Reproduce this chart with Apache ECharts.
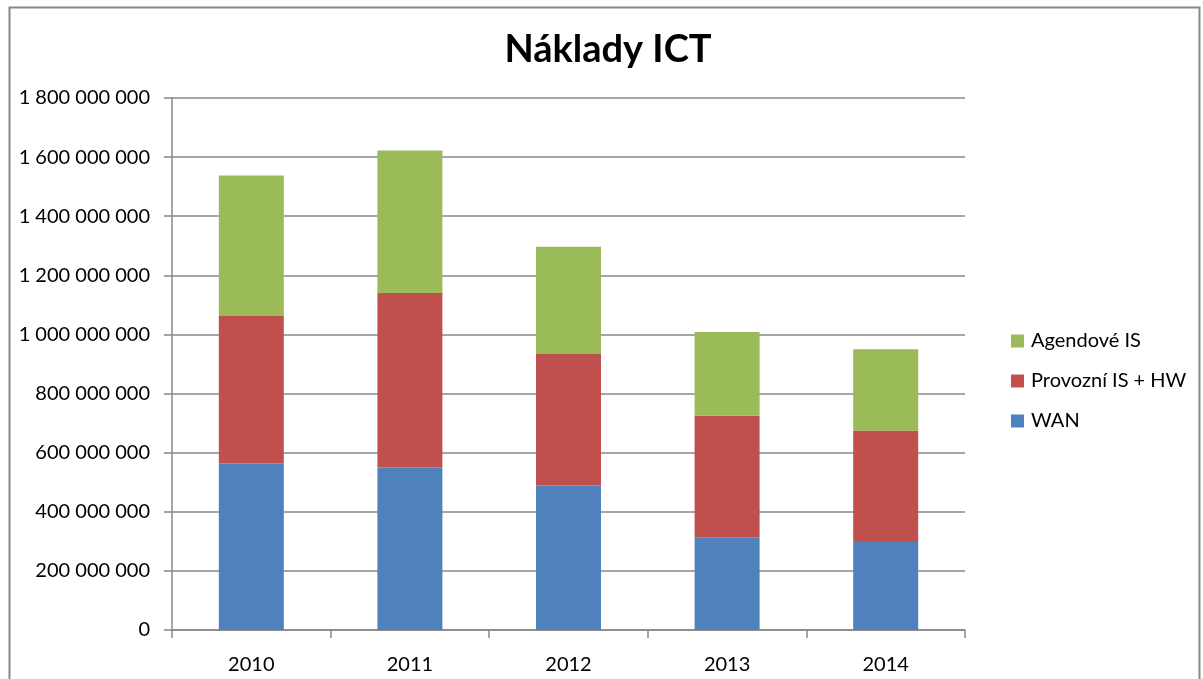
<!DOCTYPE html>
<html><head><meta charset="utf-8">
<script src="https://cdn.jsdelivr.net/npm/echarts@6/dist/echarts.min.js"></script>
<style>html,body{margin:0;padding:0;background:#fff}#c{width:1203px;height:679px}</style>
</head><body><div id="c"></div>
<script>
const categories = ['2010','2011','2012','2013','2014'];
const wan = [563000000, 550000000, 489000000, 314000000, 298000000];
const provozni = [499000000, 590000000, 445000000, 411000000, 377000000];
const agendove = [476000000, 482000000, 363000000, 283000000, 275000000];
const seriesNames = ['WAN', 'Provozní IS + HW', 'Agendové IS'];
const colors = ['#4F81BD', '#C0504D', '#9BBB59'];

const font = 'Lato, "Open Sans", sans-serif';
function fmt(v){ return String(v).replace(/\B(?=(\d{3})+(?!\d))/g, ' '); }

const chart = echarts.init(document.getElementById('c'));
const data = [wan, provozni, agendove];
chart.setOption({
  animation: false,
  title: { text: 'Náklady ICT', left: 603, top: 26, textAlign: 'center',
    textStyle: { fontFamily: font, fontSize: 38, fontWeight: 'bold', color: '#000' } },
  graphic: [{ type: 'rect', shape: { x: 9.5, y: 7.5, width: 1190, height: 690 },
    style: { fill: 'none', stroke: '#888', lineWidth: 2 }, silent: true }],
  legend: {
    orient: 'vertical', left: 1006, top: 326, itemGap: 20, itemWidth: 13, itemHeight: 13,
    data: ['Agendové IS', 'Provozní IS + HW', 'WAN'],
    icon: 'rect',
    textStyle: { fontFamily: font, fontSize: 20, color: '#000', padding: [0,0,0,2] }
  },
  grid: { left: 172, top: 98, width: 793, height: 532, containLabel: false },
  xAxis: {
    type: 'category', data: categories, boundaryGap: true,
    axisLine: { lineStyle: { color: '#888', width: 1.5 } },
    axisTick: { show: true, length: 8, alignWithLabel: false, lineStyle: { color: '#888', width: 1.5 } },
    axisLabel: { fontFamily: font, fontSize: 20, color: '#000', margin: 25 }
  },
  yAxis: {
    type: 'value', min: 0, max: 1800000000, interval: 200000000,
    axisLine: { show: true, lineStyle: { color: '#888', width: 1.5 } },
    axisTick: { show: true, length: 8, lineStyle: { color: '#888', width: 1.5 } },
    splitLine: { lineStyle: { color: '#888', width: 1.5 } },
    axisLabel: { fontFamily: font, fontSize: 20, color: '#000', margin: 22, formatter: fmt }
  },
  series: seriesNames.map((n, i) => ({
    name: n, type: 'bar', stack: 'total', data: data[i], barWidth: 65,
    itemStyle: { color: colors[i] }
  }))
});
</script></body></html>
